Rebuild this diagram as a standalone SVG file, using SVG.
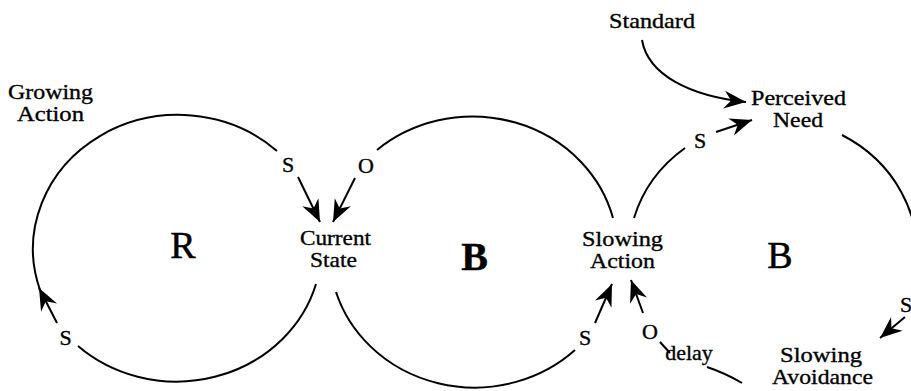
<svg xmlns="http://www.w3.org/2000/svg" width="911" height="391" viewBox="0 0 911 391">
<defs>
<marker id="ah" markerUnits="userSpaceOnUse" viewBox="-24 -11 26 22" markerWidth="26" markerHeight="22" refX="0" refY="0" orient="auto">
<path d="M0,0 L-22,-9 L-15,0 L-22,9 Z" fill="#000"/>
</marker>
<style>
.t{font-family:"Liberation Serif","Times New Roman",serif;font-size:22px;fill:#000;stroke:#000;stroke-width:0.35;text-anchor:middle}
.p{font-size:22px}
.lr{font-size:38px;stroke-width:0.5}
.lb{font-size:40px;font-weight:bold}
.c{fill:none;stroke:#000;stroke-width:2}
.a{marker-end:url(#ah)}
</style>
</defs>
<rect width="911" height="391" fill="#fff"/>
<g id="connectors">
<path class="c" d="M40,290 A145,134 0 0 1 277,151"/>
<path class="c a" d="M298,177 L320,222"/>
<path class="c" d="M316,284 A145,134 0 0 1 78,346"/>
<path class="c a" d="M57,323 L39,288"/>
<path class="c" d="M613,218 A145,135 0 0 0 377,150"/>
<path class="c a" d="M355,178 L333,222"/>
<path class="c" d="M336,292 A145,135 0 0 0 575,350"/>
<path class="c a" d="M595,323 L612,284"/>
<path class="c" d="M634,218 A145,135 0 0 1 685,148"/>
<path class="c a" d="M716,132 L752,120"/>
<path class="c a" d="M642,40 C648,75 690,96 746,102"/>
<path class="c" d="M842,135 A145,135 0 0 1 916,270"/>
<path class="c a" d="M905,317 L880,338"/>
<path class="c" d="M742,383 Q725,373 707,367"/>
<path class="c" d="M670,353 L660,342"/>
<path class="c a" d="M643,313 L631,280"/>
</g>
<g id="labels" class="t p">
<text x="288" y="172">S</text>
<text x="366" y="173">O</text>
<text x="65.5" y="345">S</text>
<text x="585" y="345">S</text>
<text x="650" y="339">O</text>
<text x="700" y="148">S</text>
<text x="906" y="312">S</text>
<text x="689" y="360">delay</text>
</g>
<g id="loop-R"><text class="t lr" x="183" y="258">R</text></g>
<g id="loop-B1"><text class="t lb" x="474.5" y="270">B</text></g>
<g id="loop-B2"><text class="t lr" x="780" y="268">B</text></g>
<g id="growing-action"><text class="t" x="50.5" y="99" textLength="85" lengthAdjust="spacingAndGlyphs">Growing</text><text class="t" x="50.5" y="121" textLength="67" lengthAdjust="spacingAndGlyphs">Action</text></g>
<g id="standard"><text class="t" x="652" y="28" textLength="86" lengthAdjust="spacingAndGlyphs">Standard</text></g>
<g id="perceived-need"><text class="t" x="798.5" y="105" textLength="95" lengthAdjust="spacingAndGlyphs">Perceived</text><text class="t" x="798" y="127" textLength="50" lengthAdjust="spacingAndGlyphs">Need</text></g>
<g id="current-state"><text class="t" x="335.5" y="245" textLength="71" lengthAdjust="spacingAndGlyphs">Current</text><text class="t" x="333.5" y="267" textLength="47" lengthAdjust="spacingAndGlyphs">State</text></g>
<g id="slowing-action"><text class="t" x="622.5" y="246" textLength="81" lengthAdjust="spacingAndGlyphs">Slowing</text><text class="t" x="622.5" y="268" textLength="65" lengthAdjust="spacingAndGlyphs">Action</text></g>
<g id="slowing-avoidance"><text class="t" x="821" y="362" textLength="82" lengthAdjust="spacingAndGlyphs">Slowing</text><text class="t" x="822.5" y="384" textLength="101" lengthAdjust="spacingAndGlyphs">Avoidance</text></g>
</svg>
